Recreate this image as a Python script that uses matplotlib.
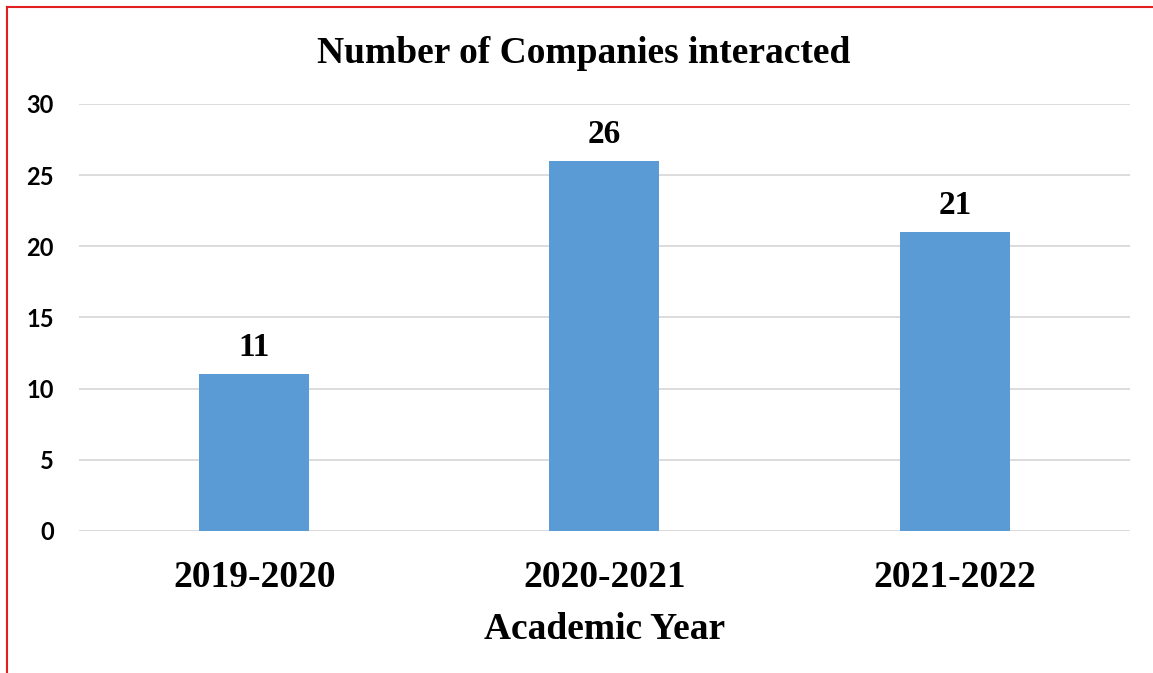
import matplotlib.pyplot as plt
from matplotlib.lines import Line2D

# data
years = ['2019-2020', '2020-2021', '2021-2022']
companies = [11, 26, 21]

fig = plt.figure(figsize=(11.53, 6.73), dpi=100)
ax = fig.add_axes([0.0685, 0.211, 0.9115, 0.6345])

x = range(len(years))
bars = ax.bar(x, companies, width=0.314, color='#5B9BD5', zorder=3)

# value labels on top of bars
for b, v in zip(bars, companies):
    ax.annotate(str(v), (b.get_x() + b.get_width() / 2, v), xytext=(0, 8),
                textcoords='offset points', ha='center', va='bottom',
                fontsize=24, fontweight='bold', family='Liberation Serif')

ax.set_xlim(-0.5, 2.5)
ax.set_ylim(0, 30)
ax.set_yticks(range(0, 31, 5))
ax.set_xticks(list(x))
ax.set_xticklabels(years, fontsize=27, fontweight='bold', family='Liberation Serif')
for lab in ax.get_yticklabels():
    lab.set_fontsize(17)
    lab.set_fontweight('bold')
    lab.set_family('Lato')

ax.grid(axis='y', color='#D9D9D9', linewidth=1.3, zorder=0)
for s in ax.spines.values():
    s.set_visible(False)
ax.tick_params(axis='both', length=0)
ax.tick_params(axis='y', pad=18)
ax.tick_params(axis='x', pad=21)

ax.set_xlabel('Academic Year', fontsize=27, fontweight='bold', family='Liberation Serif', labelpad=12)
fig.text(0.506, 0.92, 'Number of Companies interacted', ha='center', va='center',
         fontsize=27, fontweight='bold', family='Liberation Serif')

# red frame lines on top and left
fig.add_artist(Line2D([7 / 1153, 7 / 1153], [0, 1 - 7 / 673], color='#E02020', linewidth=1.5))
fig.add_artist(Line2D([7 / 1153, 1], [1 - 7 / 673, 1 - 7 / 673], color='#E02020', linewidth=1.5))

fig.savefig('out.png', dpi=100)
